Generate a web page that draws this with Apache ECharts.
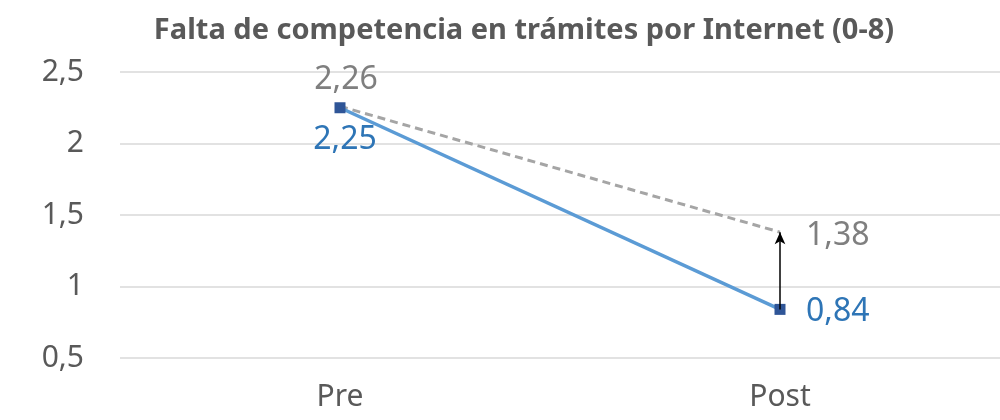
<!DOCTYPE html>
<html>
<head>
<meta charset="utf-8">
<script src="https://cdn.jsdelivr.net/npm/echarts@6/dist/echarts.min.js"></script>
<style>
  html, body { margin: 0; padding: 0; background: #fff; }
  #grafico { width: 1000px; height: 420px; }
</style>
</head>
<body>
<div id="grafico"></div>
<script>
// datos
var categorias = ['Pre', 'Post'];
var serie_azul = [2.25, 0.84];
var serie_gris = [2.26, 1.38];
var ticks_y = [0.5, 1, 1.5, 2, 2.5];

function coma(v) {
    return String(v).replace('.', ',');
}

var myChart = echarts.init(document.getElementById('grafico'));

var option = {
    animation: false,
    backgroundColor: '#ffffff',
    title: {
        text: 'Falta de competencia en trámites por Internet (0-8)',
        left: 519,
        textAlign: 'center',
        top: 11,
        textStyle: { fontFamily: 'Noto Sans', fontWeight: 'bold', fontSize: 29, color: '#595959' }
    },
    grid: { left: 120, right: 0, top: 72, bottom: 62 },
    xAxis: {
        type: 'category',
        data: categorias,
        boundaryGap: true,
        axisLine: { show: false },
        axisTick: { show: false },
        axisLabel: { fontFamily: 'Noto Sans', fontSize: 30, color: '#595959', margin: 24 }
    },
    yAxis: {
        type: 'value',
        min: ticks_y[0],
        max: ticks_y[ticks_y.length - 1],
        interval: 0.5,
        axisLine: { show: false },
        axisTick: { show: false },
        splitLine: { lineStyle: { color: '#d9d9d9', width: 1.5 } },
        axisLabel: {
            fontFamily: 'Noto Sans', fontSize: 30, color: '#595959', margin: 36,
            formatter: function (v) { return coma(v); }
        }
    },
    series: [
        {
            name: 'gris',
            type: 'line',
            data: serie_gris,
            symbol: 'circle',
            symbolSize: 0.1,
            lineStyle: { color: '#a5a5a5', width: 3, type: [8, 5] },
            itemStyle: { color: '#a5a5a5' },
            label: {
                show: true,
                fontFamily: 'Noto Sans', fontSize: 32, color: '#7f7f7f',
                formatter: function (p) { return coma(p.value); },
                position: 'top'
            },
            labelLayout: function (p) {
                var cx = p.rect.x + p.rect.width / 2;
                var cy = p.rect.y + p.rect.height / 2;
                if (p.dataIndex === 1) {
                    return { x: cx + 26, y: cy + 4, align: 'left', verticalAlign: 'middle' };
                }
                return { x: cx + 6, y: cy - 26, align: 'center', verticalAlign: 'middle' };
            },
            markLine: {
                silent: true,
                symbol: ['none', 'arrow'],
                symbolSize: [8, 12],
                label: { show: false },
                lineStyle: { color: '#000000', width: 1.5, type: 'solid' },
                data: [[
                    { coord: [categorias[1], serie_azul[1]] },
                    { coord: [categorias[1], serie_gris[1]] }
                ]]
            },
            z: 2
        },
        {
            name: 'azul',
            type: 'line',
            data: serie_azul,
            symbol: 'rect',
            symbolSize: 11,
            lineStyle: { color: '#5b9bd5', width: 3.5 },
            itemStyle: { color: '#2f5597' },
            label: {
                show: true,
                fontFamily: 'Noto Sans', fontSize: 32, color: '#2e75b6',
                formatter: function (p) { return coma(p.value); },
                position: 'bottom'
            },
            labelLayout: function (p) {
                var cx = p.rect.x + p.rect.width / 2;
                var cy = p.rect.y + p.rect.height / 2;
                if (p.dataIndex === 1) {
                    return { x: cx + 26, y: cy + 3, align: 'left', verticalAlign: 'middle' };
                }
                return { x: cx + 5, y: cy + 32, align: 'center', verticalAlign: 'middle' };
            },
            z: 3
        }
    ]
};

myChart.setOption(option, true);
</script>
</body>
</html>
